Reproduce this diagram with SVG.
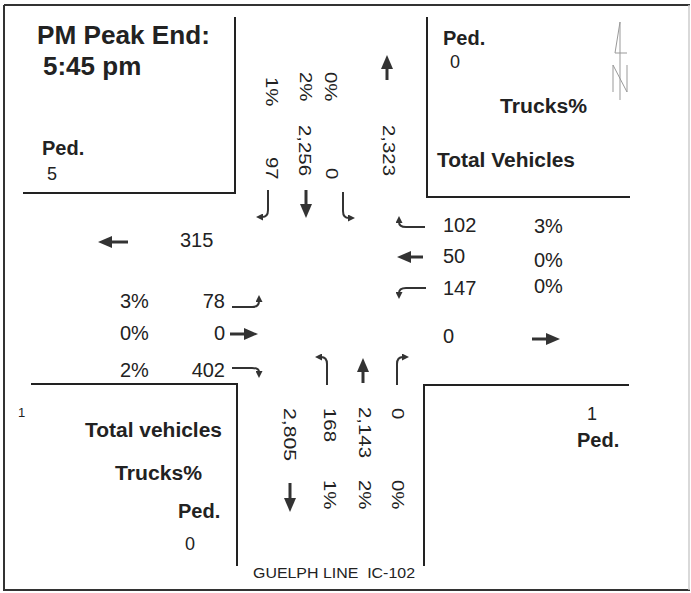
<svg xmlns="http://www.w3.org/2000/svg" width="691" height="593" viewBox="0 0 691 593">
<style>
.t{font-family:"Liberation Sans",Arial,sans-serif;fill:#222}
.n{font-size:20px}
.r{font-size:17px}
.b{font-size:20px;font-weight:bold}
.edge{fill:none;stroke:#222;stroke-width:2}
.sa{fill:none;stroke:#333;stroke-width:3;marker-end:url(#ah)}
.ta{fill:none;stroke:#333;stroke-width:2;marker-end:url(#sh)}
.na{fill:none;stroke:#999;stroke-width:1}
</style>
<defs>
<marker id="ah" markerUnits="userSpaceOnUse" markerWidth="14" markerHeight="12" viewBox="0 0 14 12" refX="2" refY="6" orient="auto"><path d="M0,0 L14,6 L0,12 z" fill="#333"/></marker>
<marker id="sh" markerUnits="userSpaceOnUse" markerWidth="7" markerHeight="7" viewBox="0 0 7 7" refX="1" refY="3.5" orient="auto"><path d="M0,0 L7,3.5 L0,7 z" fill="#333"/></marker>
</defs>
<rect width="691" height="593" fill="#fff"/>
<g id="frame">
<path d="M4,5 H690 M4,5 V590 H690" fill="none" stroke="#333" stroke-width="2"/>
<path d="M689,5 V590" fill="none" stroke="#ccc" stroke-width="1.5"/>
</g>
<g id="corners">
<path class="edge" d="M23,193 H235 V17"/>
<path class="edge" d="M427,17 V197 H630"/>
<path class="edge" d="M31,384 H237 V566"/>
<path class="edge" d="M629,385 H424 V566"/>
</g>
<g id="north">
<path class="na" d="M620,22 V100 M620,22 L615,53 H627 M613,65 V92 M613,65 L627,92 M627,65 V92"/>
</g>
<g id="title">
<text class="t" x="37" y="44" font-size="26" font-weight="bold" textLength="173" lengthAdjust="spacingAndGlyphs">PM Peak End:</text>
<text class="t" x="43" y="75" font-size="26" font-weight="bold">5:45 pm</text>
</g>
<g id="nw-ped">
<text class="t b" x="42" y="155">Ped.</text>
<text class="t" x="47" y="180" font-size="18">5</text>
</g>
<g id="ne-legend">
<text class="t b" x="443" y="45">Ped.</text>
<text class="t" x="450" y="68" font-size="18">0</text>
<text class="t b" x="500" y="113" textLength="87" lengthAdjust="spacingAndGlyphs">Trucks%</text>
<text class="t b" x="437" y="167" textLength="138" lengthAdjust="spacingAndGlyphs">Total Vehicles</text>
</g>
<g id="sw-legend">
<text class="t" x="18" y="417" font-size="13">1</text>
<text class="t b" x="85" y="437" textLength="137" lengthAdjust="spacingAndGlyphs">Total vehicles</text>
<text class="t b" x="115" y="480" textLength="87" lengthAdjust="spacingAndGlyphs">Trucks%</text>
<text class="t b" x="178" y="518">Ped.</text>
<text class="t" x="185" y="550" font-size="18">0</text>
</g>
<g id="se-ped">
<text class="t" x="587" y="420" font-size="18">1</text>
<text class="t b" x="577" y="447">Ped.</text>
</g>
<g id="north-approach">
<text class="t r" transform="translate(266,77) rotate(90) scale(1.2,1)">1%</text>
<text class="t r" transform="translate(300,72) rotate(90) scale(1.2,1)">2%</text>
<text class="t r" transform="translate(325,72) rotate(90) scale(1.2,1)">0%</text>
<text class="t r" transform="translate(299,125) rotate(90) scale(1.2,1)">2,256</text>
<text class="t r" transform="translate(266,157) rotate(90) scale(1.2,1)">97</text>
<text class="t r" transform="translate(326,168) rotate(90) scale(1.2,1)">0</text>
<text class="t r" transform="translate(383,125) rotate(90) scale(1.2,1)">2,323</text>
</g>
<g id="east-approach">
<text class="t n" x="443" y="232">102</text>
<text class="t n" x="534" y="233">3%</text>
<text class="t n" x="443" y="263">50</text>
<text class="t n" x="534" y="267">0%</text>
<text class="t n" x="443" y="295">147</text>
<text class="t n" x="534" y="293">0%</text>
<text class="t n" x="443" y="343">0</text>
</g>
<g id="west-approach">
<text class="t n" x="180" y="247">315</text>
<text class="t n" x="120" y="308">3%</text>
<text class="t n" x="225" y="308" text-anchor="end">78</text>
<text class="t n" x="120" y="340">0%</text>
<text class="t n" x="225" y="340" text-anchor="end">0</text>
<text class="t n" x="120" y="377">2%</text>
<text class="t n" x="225" y="377" text-anchor="end">402</text>
</g>
<g id="south-approach">
<text class="t r" transform="translate(284,408) rotate(90) scale(1.25,1)">2,805</text>
<text class="t r" transform="translate(324,408) rotate(90) scale(1.2,1)">168</text>
<text class="t r" transform="translate(324,480) rotate(90) scale(1.2,1)">1%</text>
<text class="t r" transform="translate(359,407) rotate(90) scale(1.2,1)">2,143</text>
<text class="t r" transform="translate(359,480) rotate(90) scale(1.2,1)">2%</text>
<text class="t r" transform="translate(392,408) rotate(90) scale(1.2,1)">0</text>
<text class="t r" transform="translate(392,480) rotate(90) scale(1.2,1)">0%</text>
<text class="t" x="253" y="578" font-size="15" textLength="162" lengthAdjust="spacingAndGlyphs" style="white-space:pre">GUELPH LINE  IC-102</text>
</g>
<g id="connectors">
<path class="sa" d="M387,80 V67"/>
<path class="sa" d="M306,190 V206"/>
<path class="sa" d="M423,257 H409"/>
<path class="sa" d="M128,242 H110"/>
<path class="sa" d="M230,334 H246"/>
<path class="sa" d="M532,339 H548"/>
<path class="sa" d="M363,383 V370"/>
<path class="sa" d="M290,483 V500"/>
<path class="ta" d="M268,190 V210 Q268,217 262,217"/>
<path class="ta" d="M343,192 V211 Q343,218 349,218"/>
<path class="ta" d="M425,227 H406 Q399,227 399,222"/>
<path class="ta" d="M426,288 H406 Q399,288 399,293"/>
<path class="ta" d="M232,307 H252 Q259,307 259,301"/>
<path class="ta" d="M232,368 H252 Q259,368 259,372"/>
<path class="ta" d="M327,385 V364 Q327,357 321,357"/>
<path class="ta" d="M397,385 V364 Q397,357 403,357"/>
</g>
</svg>
